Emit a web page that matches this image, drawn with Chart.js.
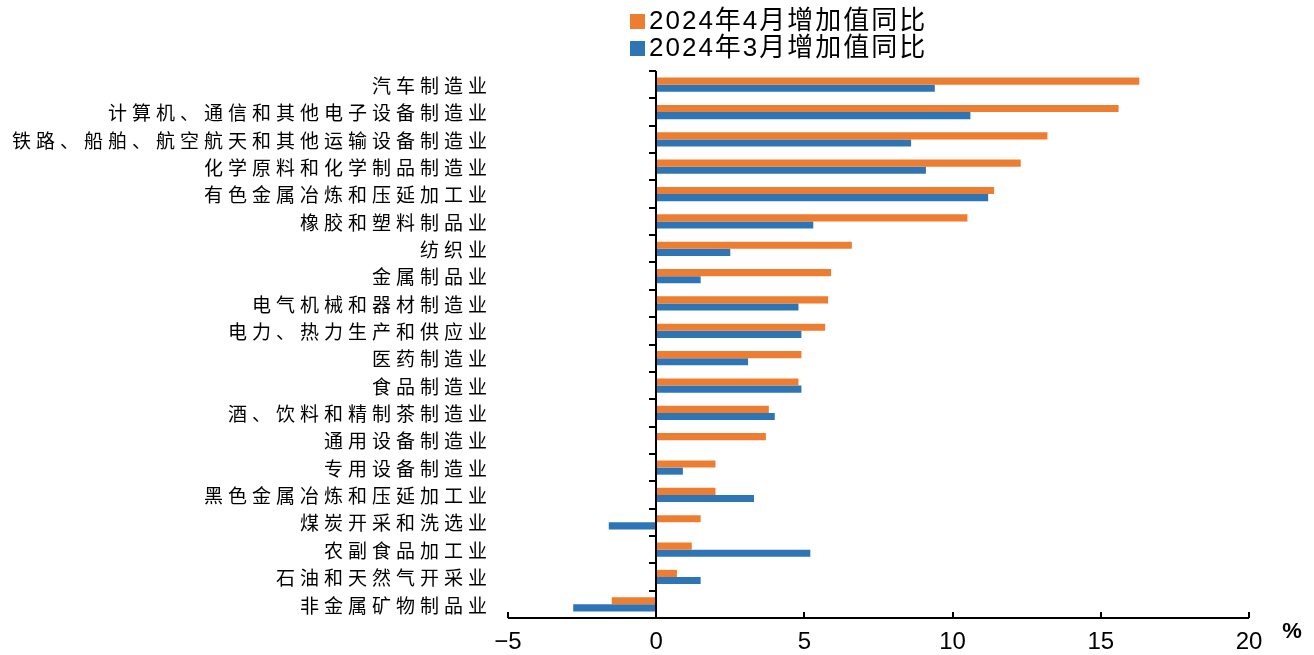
<!DOCTYPE html>
<html><head><meta charset="utf-8">
<script src="https://cdn.jsdelivr.net/npm/chart.js@4/dist/chart.umd.min.js"></script>
<style>html,body{margin:0;padding:0;background:#fff;}#wrap{width:1314px;height:655px;}</style>
</head><body><div id="wrap"><canvas id="c" width="1314" height="655"></canvas></div>
<script>
const categories = ['汽车制造业','计算机、通信和其他电子设备制造业','铁路、船舶、航空航天和其他运输设备制造业','化学原料和化学制品制造业','有色金属冶炼和压延加工业','橡胶和塑料制品业','纺织业','金属制品业','电气机械和器材制造业','电力、热力生产和供应业','医药制造业','食品制造业','酒、饮料和精制茶制造业','通用设备制造业','专用设备制造业','黑色金属冶炼和压延加工业','煤炭开采和洗选业','农副食品加工业','石油和天然气开采业','非金属矿物制品业'];
const seriesNames = ['2024年4月增加值同比','2024年3月增加值同比'];
const aprilValues = [16.3,15.6,13.2,12.3,11.4,10.5,6.6,5.9,5.8,5.7,4.9,4.8,3.8,3.7,2.0,2.0,1.5,1.2,0.7,-1.5];
const marchValues = [9.4,10.6,8.6,9.1,11.2,5.3,2.5,1.5,4.8,4.9,3.1,4.9,4.0,null,0.9,3.3,-1.6,5.2,1.5,-2.8];
const xMin = -5, xMax = 20, xStep = 5;
const unitLabel = '%';
const colors = ['#ED7D31','#2E75B6'];

const CJK = '"Noto Sans CJK SC"';
const NUM = '"Liberation Sans Narrow","Liberation Sans",' + CJK;

const decor = {
  id: 'decor',
  afterDatasetsDraw(chart) {
    const {ctx, chartArea: a, scales: {x, y}} = chart;
    ctx.save();
    ctx.strokeStyle = '#000';
    ctx.lineWidth = 2;
    ctx.beginPath();
    ctx.moveTo(a.left, a.bottom); ctx.lineTo(a.right, a.bottom);
    for (let v = xMin; v <= xMax; v += xStep) {
      const px = Math.round(x.getPixelForValue(v));
      ctx.moveTo(px, a.bottom); ctx.lineTo(px, a.bottom - 6);
    }
    ctx.stroke();
    const zx = Math.round(x.getPixelForValue(0));
    ctx.beginPath();
    ctx.moveTo(zx, a.top); ctx.lineTo(zx, a.bottom);
    const n = categories.length;
    const step = (y.getPixelForValue(n - 1) - y.getPixelForValue(0)) / (n - 1);
    for (let i = 0; i < n; i++) {
      const py = Math.round(y.getPixelForValue(i) - step / 2);
      ctx.moveTo(zx, py); ctx.lineTo(zx - 7, py);
    }
    ctx.stroke();
    ctx.fillStyle = '#000';
    ctx.font = '19px ' + CJK;
    ctx.textAlign = 'right';
    ctx.textBaseline = 'middle';
    if ('letterSpacing' in ctx) ctx.letterSpacing = '5px';
    categories.forEach((c, i) => {
      ctx.fillText(c, a.left - 16, y.getPixelForValue(i) + 1);
    });
    ctx.textAlign = 'left';
    ctx.font = '26px ' + NUM;
    if ('letterSpacing' in ctx) ctx.letterSpacing = '2px';
    chart.data.datasets.forEach((ds, i) => {
      const ly = 21 + i * 27;
      ctx.fillStyle = ds.backgroundColor;
      ctx.fillRect(630, ly - 7, 15, 15);
      ctx.fillStyle = '#000';
      ctx.fillText(ds.label, 649, ly + 1);
    });
    if ('letterSpacing' in ctx) ctx.letterSpacing = '0px';
    ctx.font = 'bold 22px ' + NUM;
    ctx.textAlign = 'center';
    ctx.fillText(unitLabel, a.right + 43, a.bottom + 14);
    ctx.restore();
  }
};

new Chart(document.getElementById('c'), {
  type: 'bar',
  data: {
    labels: categories,
    datasets: [
      {label: seriesNames[0], data: aprilValues, backgroundColor: colors[0]},
      {label: seriesNames[1], data: marchValues, backgroundColor: colors[1]}
    ]
  },
  options: {
    indexAxis: 'y',
    responsive: false,
    animation: false,
    devicePixelRatio: 1,
    layout: {padding: {left: 508, right: 65, top: 71, bottom: 0}},
    categoryPercentage: 0.52,
    barPercentage: 1,
    plugins: {legend: {display: false}, tooltip: {enabled: false}},
    scales: {
      y: {display: false},
      x: {
        min: xMin, max: xMax,
        grid: {display: false, drawTicks: false},
        border: {display: false},
        ticks: {
          stepSize: xStep,
          padding: 10,
          color: '#000',
          font: {family: '"Liberation Sans Narrow","Liberation Sans"', size: 24},
          callback: v => String(v).replace('-', '\u2212')
        },
        afterFit: s => { s.height = 37; }
      }
    }
  },
  plugins: [decor]
});
</script></body></html>
